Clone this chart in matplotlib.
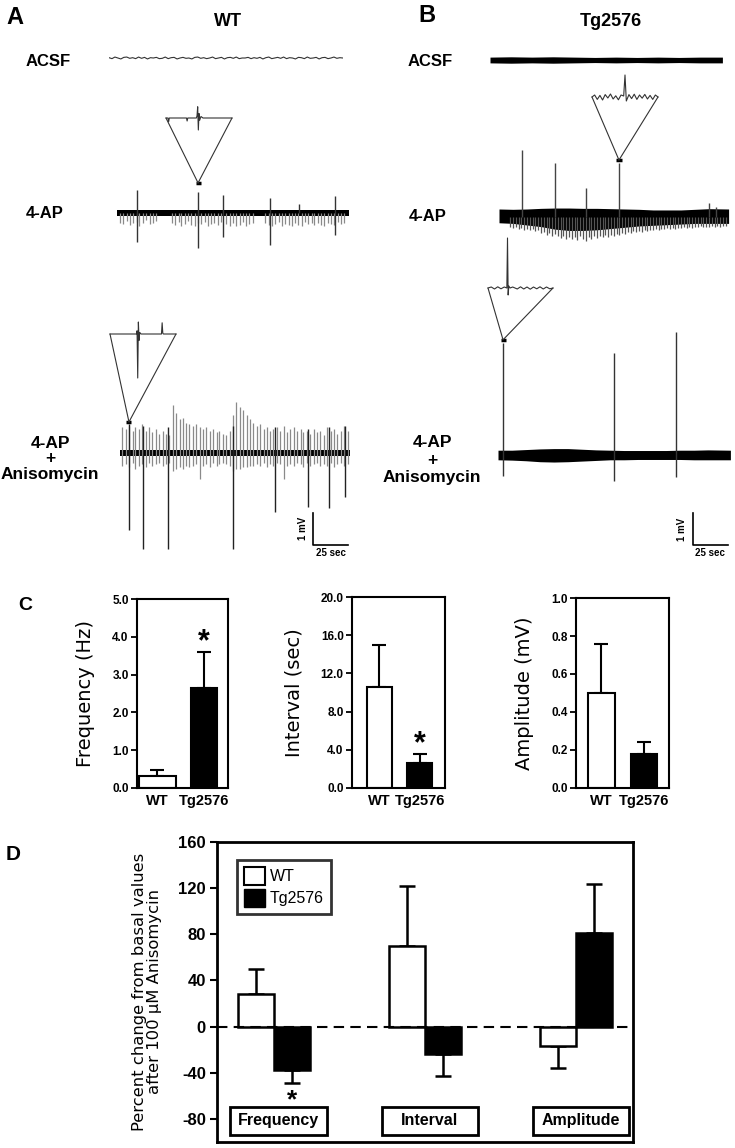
import numpy as np
import matplotlib.pyplot as plt
from matplotlib.patches import Patch, Rectangle, ConnectionPatch

plt.rcParams['font.family'] = ['Liberation Sans', 'DejaVu Sans']

# ---------------- trace data (sec, mV) ----------------
# WT, ACSF : small wiggle around baseline
wt_acsf_v = [0.01, -0.02, 0.03, 0.0, -0.03, 0.02, 0.03, -0.01, 0.01, -0.02,
             0.03, -0.01, 0.02, -0.03, 0.01, 0.0, 0.02, -0.02, -0.01, 0.03,
             -0.02, 0.01, 0.02, -0.03, 0.0, 0.02, -0.01, 0.0, -0.03, 0.02,
             0.03, -0.01, 0.01, -0.02, 0.0, 0.03, -0.02, 0.0, 0.02, -0.03,
             0.01, 0.02, -0.01, 0.03, -0.02, 0.0, 0.0, 0.02, -0.02, 0.01,
             -0.01, 0.02, -0.03, 0.01, 0.03, -0.02, 0.0, 0.02, -0.01, 0.03,
             -0.02, 0.01, 0.0, -0.03, 0.02, 0.01, -0.02, 0.03, -0.01, 0.0,
             0.02, -0.03, 0.01, 0.02, -0.02, 0.0, 0.03, -0.01, 0.01, 0.0]

# WT, 4-AP : small downward events
wt_4ap_t = [2, 4.5, 7, 9, 11.5, 14, 16, 18.5, 21, 23.5, 26, 28,
            39, 41.5, 44, 46, 48.5, 51, 53, 55.5, 58, 60, 62.5, 65, 67, 69.5, 72, 74,
            78, 80.5, 83, 85, 87.5, 90, 92, 94.5, 97,
            106, 108.5, 111, 113, 115.5, 118, 120, 122.5, 125, 127, 129.5, 132, 134,
            136.5, 139, 141, 143.5, 146, 148, 150.5, 153, 155, 157.5, 160, 162]
wt_4ap_dn = [0.3, 0.35, 0.25, 0.38, 0.3, 0.28, 0.4, 0.32, 0.22, 0.35, 0.3, 0.26,
             0.3, 0.36, 0.28, 0.4, 0.33, 0.25, 0.38, 0.42, 0.3, 0.35, 0.27, 0.4, 0.33, 0.3, 0.38, 0.28,
             0.35, 0.4, 0.3, 0.42, 0.36, 0.28, 0.4, 0.33, 0.3,
             0.3, 0.38, 0.42, 0.35, 0.28, 0.4, 0.33, 0.38, 0.42, 0.3, 0.36, 0.4, 0.28,
             0.35, 0.32, 0.38, 0.3, 0.36, 0.42, 0.3, 0.33, 0.38, 0.28, 0.35, 0.3]
# WT, 4-AP : large discharges
wt_4ap_big_t = [14, 57.5, 76, 109, 130, 156]
wt_4ap_big_up = [0.72, 0.66, 0.56, 0.47, 0.28, 0.53]
wt_4ap_big_dn = [0.9, 1.1, 0.75, 1.0, 0.0, 0.69]

# WT, 4-AP + Anisomycin : frequent events
wt_an_t = [1.5, 4, 6.5, 9, 11, 13.5, 16, 18.5, 21, 23,
           25.5, 28, 30.5, 33, 35, 37.5, 40, 42.5, 45, 47,
           49.5, 52, 54.5, 57, 59, 61.5, 64, 66.5, 69, 71,
           73.5, 76, 78.5, 81, 83, 85.5, 88, 90.5, 93, 95,
           97.5, 100, 102.5, 105, 107, 109.5, 112, 114.5, 117, 119,
           121.5, 124, 126.5, 129, 131, 133.5, 136, 138.5, 141, 143,
           145.5, 148, 150.5, 153, 155, 157.5, 160, 162.5]
wt_an_up = [0.8, 0.75, 0.85, 0.7, 0.8, 0.75, 0.9, 0.7, 0.8, 0.65,
            0.75, 0.6, 0.7, 0.6, 0.55, 1.5, 1.25, 1.05, 1.1, 0.95,
            0.9, 0.85, 0.9, 0.8, 0.75, 0.8, 0.7, 0.75, 0.65, 0.7,
            0.6, 0.55, 0.7, 1.2, 1.6, 1.45, 1.35, 1.2, 1.05, 0.95,
            0.85, 0.9, 0.75, 0.8, 0.7, 0.75, 0.8, 0.7, 0.85, 0.65,
            0.75, 0.8, 0.7, 0.75, 0.65, 0.7, 0.6, 0.75, 0.65, 0.7,
            0.55, 0.8, 0.7, 0.75, 0.6, 0.7, 0.85, 0.7]
wt_an_dn = [0.4, 0.35, 0.45, 0.3, 0.5, 0.4, 0.35, 0.45, 0.3, 0.4,
            0.35, 0.3, 0.4, 0.35, 0.3, 0.55, 0.5, 0.45, 0.5, 0.4,
            0.45, 0.4, 0.35, 0.8, 0.4, 0.35, 0.45, 0.3, 0.4, 0.35,
            0.3, 0.35, 0.4, 0.55, 0.5, 0.5, 0.45, 0.45, 0.4, 0.4,
            0.35, 0.4, 0.3, 0.45, 0.35, 0.4, 0.3, 0.35, 0.8, 0.4,
            0.35, 0.4, 0.3, 0.35, 0.45, 0.3, 0.4, 0.35, 0.3, 0.4,
            0.35, 0.4, 0.3, 0.45, 0.35, 0.3, 0.4, 0.35]
wt_an_big_t = [6.4, 16.4, 34, 81, 111, 134, 149, 161]
wt_an_big_up = [0.9, 0.85, 0.8, 0.85, 0.8, 0.75, 0.8, 0.85]
wt_an_big_dn = [2.4, 3.0, 3.0, 3.0, 1.84, 1.7, 1.72, 1.37]

# Tg2576, ACSF : noise band half width
tg_acsf_t = [0, 15, 30, 45, 60, 75, 90, 105, 120, 135, 150, 166]
tg_acsf_hw = [0.09, 0.1, 0.09, 0.1, 0.09, 0.08, 0.09, 0.08, 0.09, 0.08, 0.09, 0.09]

# Tg2576, 4-AP
tg_4ap_env_t = [0, 10, 20, 30, 40, 50, 60, 70, 80, 90, 100, 110, 120, 130, 140, 150, 164]
tg_4ap_env_hi = [0.25, 0.24, 0.25, 0.27, 0.28, 0.28, 0.27, 0.27, 0.26, 0.25, 0.24, 0.22,
                 0.22, 0.22, 0.24, 0.26, 0.25]
tg_4ap_env_lo = [-0.18, -0.2, -0.25, -0.3, -0.38, -0.42, -0.42, -0.4, -0.36, -0.32, -0.28,
                 -0.26, -0.24, -0.22, -0.2, -0.2, -0.2]
tg_4ap_t = [8, 10, 12, 14, 16, 18, 20, 22, 24, 26,
            28, 30, 32, 34, 36, 38, 40, 42, 44, 46,
            48, 50, 52, 54, 56, 58, 60, 62, 64, 66,
            68, 70, 72, 74, 76, 78, 80, 82, 84, 86,
            88, 90, 92, 94, 96, 98, 100, 102, 104, 106,
            108, 110, 112, 114, 116, 118, 120, 122, 124, 126,
            128, 130, 132, 134, 136, 138, 140, 142, 144, 146,
            148, 150, 152, 154, 156, 158, 160, 162]
tg_4ap_dn = [0.3, 0.35, 0.3, 0.38, 0.33, 0.4, 0.36, 0.42, 0.38, 0.45,
             0.42, 0.5, 0.46, 0.55, 0.5, 0.58, 0.52, 0.6, 0.66, 0.58,
             0.68, 0.62, 0.7, 0.64, 0.72, 0.6, 0.68, 0.74, 0.62, 0.7,
             0.6, 0.66, 0.58, 0.64, 0.56, 0.62, 0.55, 0.6, 0.52, 0.56,
             0.5, 0.54, 0.48, 0.5, 0.45, 0.48, 0.44, 0.46, 0.42, 0.44,
             0.4, 0.42, 0.38, 0.4, 0.36, 0.38, 0.35, 0.37, 0.34, 0.36,
             0.33, 0.35, 0.32, 0.34, 0.3, 0.33, 0.3, 0.32, 0.29, 0.31,
             0.3, 0.32, 0.28, 0.3, 0.28, 0.3, 0.27, 0.29]
tg_4ap_big_t = [16.4, 40, 62, 85.7, 150, 155]
tg_4ap_big_up = [2.1, 1.69, 0.9, 1.7, 0.44, 0.3]

# Tg2576, 4-AP + Anisomycin
tg_an_env_t = [0, 10, 20, 30, 40, 50, 60, 70, 80, 90, 100, 110, 120, 130, 140, 150, 166]
tg_an_env_hi = [0.15, 0.15, 0.17, 0.19, 0.2, 0.2, 0.18, 0.16, 0.15, 0.14, 0.14, 0.14,
                0.14, 0.15, 0.15, 0.16, 0.15]
tg_an_env_lo = [-0.15, -0.16, -0.18, -0.21, -0.22, -0.21, -0.19, -0.17, -0.15, -0.15, -0.14,
                -0.14, -0.14, -0.14, -0.15, -0.15, -0.15]
tg_an_big_t = [3.6, 83, 127]
tg_an_big_up = [3.5, 3.2, 3.84]
tg_an_big_dn = [0.66, 0.81, 0.69]

# expanded views (ms, mV)
ins_wt4_t = [0, 3, 4, 5, 31, 32, 33, 46, 47, 48, 49, 50, 51, 53, 56, 100]
ins_wt4_v = [0, 0, -0.25, 0, 0, -0.2, 0, 0, 0.15, 0.75, -0.8, 0.3, -0.15, 0.1, 0, 0]
ins_wtan_t = [0, 40, 41, 42, 43, 44, 45, 47, 78, 79, 80, 81, 100]
ins_wtan_v = [0, 0, 0.2, -2.75, 0.75, -0.4, 0.1, 0, 0, 0.7, 0.05, 0, 0]
ins_tg4_t = [0, 4, 8, 12, 16, 20, 24, 28, 32, 36, 40, 44, 48, 50, 52, 56, 60, 64, 68,
             72, 76, 80, 84, 88, 92, 96, 100]
ins_tg4_v = [0, 0.1, -0.12, 0.08, -0.15, 0.12, -0.05, 0.15, -0.1, 0.06, -0.14, 0.1, 0.05,
             1.1, -0.2, 0.12, -0.08, 0.14, -0.12, 0.1, -0.06, 0.13, -0.1, 0.08, -0.12, 0.1, 0]
ins_tgan_t = [0, 5, 10, 15, 20, 25, 29, 30, 31, 32, 34, 38, 45, 50, 55, 60, 65, 70, 75,
              80, 85, 90, 95, 100]
ins_tgan_v = [0, 0.05, -0.05, 0.06, -0.04, 0.05, 0, 2.5, -0.35, 0.1, 0, 0.05, -0.05, 0.06,
              -0.05, 0.05, -0.06, 0.05, -0.04, 0.06, -0.05, 0.05, -0.04, 0]

# ---------------- bar data ----------------
groups = ['WT', 'Tg2576']
freq_mean = [0.32, 2.65]
freq_err = [0.16, 0.95]
int_mean = [10.6, 2.65]
int_err = [4.35, 0.9]
amp_mean = [0.5, 0.178]
amp_err = [0.256, 0.062]

measures = ['Frequency', 'Interval', 'Amplitude']
pct_wt = [28, 70, -17]
pct_wt_err = [22, 52, 19]
pct_tg = [-38, -24, 81]
pct_tg_err = [11, 19, 43]

# ---------------- layout helpers (pixel based) ----------------
W, H = 735, 1148
fig = plt.figure(figsize=(W / 100, H / 100), dpi=100)
PXS = 1.4    # px per second
PXMV = 32    # px per mV
GRAY = '#8a8a8a'


def px_axes(left, top, width, height):
    return fig.add_axes([left / W, 1 - (top + height) / H, width / W, height / H])


def trace_axes(x0, y0, dur, lo, hi):
    ax = px_axes(x0, y0 - hi * PXMV, dur * PXS, (hi - lo) * PXMV)
    ax.set_xlim(0, dur)
    ax.set_ylim(lo, hi)
    ax.set_axis_off()
    return ax


def inset(left, top, width, height, t, v, lo, hi):
    ax = px_axes(left, top, width, height)
    ax.plot(t, v, color='#333333', lw=0.8, clip_on=False)
    ax.set_xlim(0, 100)
    ax.set_ylim(lo, hi)
    ax.set_axis_off()
    return ax


def zoom_link(ins, ax, t_apex, y_apex):
    for xi in (0, 100):
        con = ConnectionPatch(xyA=(xi, 0), coordsA=ins.transData,
                              xyB=(t_apex, y_apex), coordsB=ax.transData,
                              color='#333333', lw=0.8)
        fig.add_artist(con)
    ax.plot([t_apex - 1.8, t_apex + 1.8], [y_apex, y_apex], color='black', lw=2.5,
            clip_on=False, solid_capstyle='butt')


def ftext(x, y, s, **kw):
    kw.setdefault('ha', 'center')
    kw.setdefault('va', 'center')
    fig.text(x / W, 1 - y / H, s, **kw)


def scale_bar(ax, t0, y0):
    ax.plot([t0, t0, t0 + 25], [y0 + 1, y0, y0], color='black', lw=1.2, clip_on=False)
    ax.text(t0 - 4, y0 + 0.5, '1 mV', rotation=90, ha='right', va='center',
            fontsize=7, fontweight='bold')
    ax.text(t0 + 12.5, y0 - 0.1, '25 sec', ha='center', va='top',
            fontsize=7, fontweight='bold')


# ---------------- panel A / B text ----------------
ftext(15, 17, 'A', fontsize=17, fontweight='bold')
ftext(427, 16, 'B', fontsize=17, fontweight='bold')
ftext(228, 21, 'WT', fontsize=13, fontweight='bold')
ftext(611, 21, 'Tg2576', fontsize=13, fontweight='bold')
ftext(48, 61, 'ACSF', fontsize=12, fontweight='bold')
ftext(430, 61, 'ACSF', fontsize=12, fontweight='bold')
ftext(45, 213, '4-AP', fontsize=12, fontweight='bold')
ftext(428, 217, '4-AP', fontsize=12, fontweight='bold')
ftext(50, 459, '4-AP\n+\nAnisomycin', fontsize=12.5, fontweight='bold', linespacing=1.0)
ftext(432, 460, '4-AP\n+\nAnisomycin', fontsize=12.5, fontweight='bold', linespacing=1.2)

# WT ACSF
ax = trace_axes(109, 58, 167, -0.3, 0.3)
ax.plot(np.linspace(0, 167, len(wt_acsf_v)), wt_acsf_v, color='#333333', lw=0.8)

# WT 4-AP
ax = trace_axes(117, 213, 166, -1.2, 1.0)
ax.vlines(wt_4ap_t, -np.array(wt_4ap_dn), 0, colors=GRAY, lw=0.9)
ax.fill_between([0, 166], -0.08, 0.08, color='black', lw=0)
ax.vlines(wt_4ap_big_t, -np.array(wt_4ap_big_dn), wt_4ap_big_up, colors='#333333', lw=1.0)
ins = inset(166, 103, 66, 30, ins_wt4_t, ins_wt4_v, -1, 1)
zoom_link(ins, ax, 57.9, 0.94)

# WT 4-AP + Anisomycin
ax = trace_axes(120, 453, 164, -3.3, 1.8)
ax.vlines(wt_an_t, -np.array(wt_an_dn), wt_an_up, colors=GRAY, lw=0.9)
ax.fill_between([0, 164], -0.1, 0.1, color='black', lw=0)
ax.vlines(wt_an_big_t, -np.array(wt_an_big_dn), wt_an_big_up, colors='#222222', lw=1.0)
ins = inset(110, 318, 66, 64, ins_wtan_t, ins_wtan_v, -3, 1)
zoom_link(ins, ax, 6.4, 0.97)
scale_bar(ax, 138, -2.87)

# Tg ACSF
ax = trace_axes(490, 60, 166, -0.3, 0.3)
ax.fill_between(tg_acsf_t, -np.array(tg_acsf_hw), tg_acsf_hw, color='black', lw=0)

# Tg 4-AP
ax = trace_axes(499, 217, 164, -1.0, 2.3)
ax.vlines(tg_4ap_t, -np.array(tg_4ap_dn), 0, colors='#555555', lw=0.9)
ax.fill_between(tg_4ap_env_t, tg_4ap_env_lo, tg_4ap_env_hi, color='black', lw=0)
ax.vlines(tg_4ap_big_t, 0, tg_4ap_big_up, colors='#444444', lw=1.0)
ins = inset(592, 70, 66, 40, ins_tg4_t, ins_tg4_v, -0.65, 1.35)
zoom_link(ins, ax, 85.7, 1.78)

# Tg 4-AP + Anisomycin
ax = trace_axes(498, 455, 166, -3.3, 4.0)
ax.fill_between(tg_an_env_t, tg_an_env_lo, tg_an_env_hi, color='black', lw=0)
ax.vlines(tg_an_big_t, -np.array(tg_an_big_dn), tg_an_big_up, colors='#333333', lw=1.0)
ins = inset(488, 232, 65, 68, ins_tgan_t, ins_tgan_v, -0.6, 2.8)
zoom_link(ins, ax, 3.6, 3.6)
scale_bar(ax, 139, -2.81)

# ---------------- panel C ----------------
ftext(25, 606, 'C', fontsize=14, fontweight='bold')


def small_bar(rect, xlim, means, errs, ylim, ticks, label, star=None, widths=(0.62, 0.62)):
    ax = px_axes(*rect)
    x = np.arange(len(groups))
    ax.bar(x, means, width=list(widths), color=['white', 'black'], edgecolor='black',
           linewidth=1.5, zorder=2)
    ax.errorbar(x, means, yerr=[np.zeros(len(errs)), errs], fmt='none', ecolor='black',
                elinewidth=1.5, capsize=5, capthick=1.5, zorder=1)
    ax.set_xlim(*xlim)
    ax.set_ylim(*ylim)
    ax.set_yticks(ticks)
    ax.set_yticklabels(['%.1f' % t for t in ticks], fontsize=8.5, fontweight='bold')
    ax.set_xticks(x)
    ax.set_xticklabels(groups, fontsize=10.5, fontweight='bold')
    ax.tick_params(axis='x', length=0, pad=4)
    ax.tick_params(axis='y', length=4, width=1.3, pad=2)
    for s in ax.spines.values():
        s.set_linewidth(1.5)
    ax.set_ylabel(label, family='DejaVu Sans', fontsize=14, labelpad=12)
    if star is not None:
        ax.text(1, star, '*', ha='center', va='center', fontsize=22, fontweight='bold')
    return ax


small_bar((137, 599, 91, 189), (-0.44, 1.52), freq_mean, freq_err, (0, 5),
          [0, 1, 2, 3, 4, 5], 'Frequency (Hz)', star=3.85, widths=(0.78, 0.56))
small_bar((352, 597, 93, 191), (-0.68, 1.62), int_mean, int_err, (0, 20),
          [0, 4, 8, 12, 16, 20], 'Interval (sec)', star=4.6)
small_bar((576, 598, 93, 190), (-0.6, 1.59), amp_mean, amp_err, (0, 1),
          [0, 0.2, 0.4, 0.6, 0.8, 1.0], 'Amplitude (mV)')

# ---------------- panel D ----------------
ftext(13, 855, 'D', fontsize=15, fontweight='bold')
ax = px_axes(217, 842, 416, 300)
xg = np.arange(len(measures))
bw = 0.24
wt_lo = [e if v < 0 else 0 for v, e in zip(pct_wt, pct_wt_err)]
wt_hi = [e if v >= 0 else 0 for v, e in zip(pct_wt, pct_wt_err)]
tg_lo = [e if v < 0 else 0 for v, e in zip(pct_tg, pct_tg_err)]
tg_hi = [e if v >= 0 else 0 for v, e in zip(pct_tg, pct_tg_err)]
ax.bar(xg - bw / 2, pct_wt, bw, color='white', edgecolor='black', linewidth=1.8, zorder=3,
       label='WT')
ax.bar(xg + bw / 2, pct_tg, bw, color='black', edgecolor='black', linewidth=1.8, zorder=3,
       label='Tg2576')
ax.errorbar(xg - bw / 2, pct_wt, yerr=[wt_lo, wt_hi], fmt='none', ecolor='black',
            elinewidth=1.8, capsize=6, capthick=1.8, zorder=2)
ax.errorbar(xg + bw / 2, pct_tg, yerr=[tg_lo, tg_hi], fmt='none', ecolor='black',
            elinewidth=1.8, capsize=6, capthick=1.8, zorder=2)
ax.axhline(0, color='black', lw=1.5, ls=(0, (5, 3)), zorder=4)
ax.set_xlim(-0.377, 2.376)
ax.set_ylim(-100, 160)
ax.set_yticks(np.arange(-80, 161, 40))
ax.set_yticklabels([str(t) for t in np.arange(-80, 161, 40)], fontsize=12,
                   fontweight='bold')
ax.tick_params(axis='y', length=5, width=1.5, pad=3)
ax.set_xticks([])
for s in ax.spines.values():
    s.set_linewidth(2)
ax.set_ylabel('Percent change from basal values\nafter 100 \u00b5M Anisomycin',
              family='DejaVu Sans', fontsize=11.8, linespacing=0.95, labelpad=12)
ax.text(0 + bw / 2, -64, '*', ha='center', va='center', fontsize=19, fontweight='bold')
for i, m in enumerate(measures):
    ax.add_patch(Rectangle((i + 0.03 - 0.318, -93.5), 0.636, 24, facecolor='white',
                           edgecolor='black', lw=2, zorder=5))
    ax.text(i + 0.03, -81.5, m, ha='center', va='center', fontsize=11.5,
            fontweight='bold', zorder=6)
handles = [Patch(facecolor='white', edgecolor='black', lw=1.5, label='WT'),
           Patch(facecolor='black', edgecolor='black', label='Tg2576')]
leg = ax.legend(handles=handles, loc='upper left', bbox_to_anchor=(0.048, 0.94),
                fontsize=11.5, frameon=True, fancybox=False, edgecolor='black',
                handlelength=1.3, handleheight=1.3, handletextpad=0.3,
                borderpad=0.45, labelspacing=0.3, borderaxespad=0)
leg.get_frame().set_linewidth(2)

fig.savefig('out.png', dpi=100)
